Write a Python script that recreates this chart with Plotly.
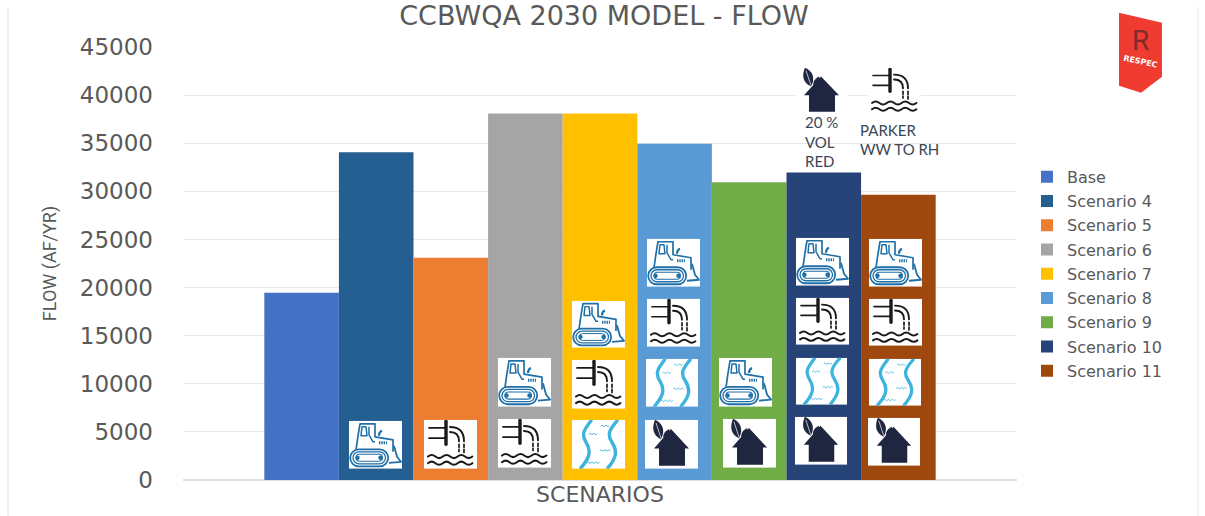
import base64
import plotly.graph_objects as go

# chart data
scenarios = ["Base", "Scenario 4", "Scenario 5", "Scenario 6", "Scenario 7",
             "Scenario 8", "Scenario 9", "Scenario 10", "Scenario 11"]
flows = [19450, 34050, 23100, 38100, 38100, 34950, 30950, 31950, 29650]
colors = ["#4472c4", "#255e91", "#ed7d31", "#a5a5a5", "#ffc000",
          "#5b9bd5", "#70ad47", "#264478", "#9e480e"]
y_ticks = [0, 5000, 10000, 15000, 20000, 25000, 30000, 35000, 40000, 45000]

W, H = 1205, 516
LEFT, RIGHT, TOP, BOTTOM = 183, 1017, 47.3, 480.2
GREY = "#595959"

# icons, all drawn on a 53x48 canvas
DOZER = """
<g fill="none" stroke="#1f6fa8" stroke-linejoin="round">
<path stroke-width="1.7" d="M7 29 L9 15 L11 3 L26 3 L26 16 L44 19 L44 31"/>
<path stroke-width="1.5" d="M13 6 L12 15 L18 15 L17 6 Z M20 6 L20 14 L24 21 L26 21"/>
<path stroke-width="2.2" d="M30 15 q0 -4 3 -5"/>
<path stroke-width="3" stroke-dasharray="1.4 0.9" d="M30 22 h8"/>
<path stroke-width="1.8" d="M45 25 L48 36 L52 41 L40 42"/>
<rect x="1.2" y="28.5" width="38" height="17" rx="8.5" stroke-width="1.8"/>
<rect x="4" y="31" width="32.5" height="12" rx="6" stroke-width="1.3"/>
</g>
<rect x="7" y="33.5" width="26.5" height="7" rx="3.5" fill="#ffffff" stroke="#1f6fa8" stroke-width="1"/>
<circle cx="8.5" cy="37" r="2.2" fill="#1f6fa8"/><circle cx="31.5" cy="37" r="2.2" fill="#1f6fa8"/>
"""
PIPE = """
<g fill="none" stroke="#1a1a1a" stroke-width="1.7" stroke-linecap="round">
<path d="M5 8 H21 M5 18 H21"/>
<path d="M22 1.5 V24" stroke-width="3.4"/>
<path d="M26 7 Q40 7 40 21 M26 12 Q35 12 35 21" stroke-width="1.9"/>
<path d="M35 24 V31 M40 24 V33" stroke-dasharray="3 2"/>
<path stroke-width="2" d="M4 36 q3.7 -3 7.4 0 t7.4 0 t7.4 0 t7.4 0 t7.4 0 t7.4 0"/>
<path stroke-width="2" d="M4 42.5 q3.7 -3 7.4 0 t7.4 0 t7.4 0 t7.4 0 t7.4 0 t7.4 0"/>
</g>
"""
RIVER = """
<g fill="none" stroke="#3cb4de" stroke-linecap="round">
<path stroke-width="3.4" d="M19 1 C12 10 9 14 14 22 C20 31 17 38 9 47"/>
<path stroke-width="3.4" d="M45 1 C37 10 35 15 40 22 C46 31 44 38 36 47"/>
<path stroke-width="0.9" d="M29 6 q1 -1.5 2 0 t2 0 t2 0 t2 0"/>
<path stroke-width="0.9" d="M17 14 q1 -1.5 2 0 t2 0 t2 0 t2 0"/>
<path stroke-width="0.9" d="M28 30 q1 -1.5 2 0 t2 0 t2 0 t2 0 t2 0"/>
<path stroke-width="0.9" d="M15 42 q1 -1.5 2 0 t2 0 t2 0 t2 0 t2 0 t2 0"/>
</g>
"""
HOUSE = """
<g fill="#1e2640">
<path d="M9 28 L26 9 L44 28 L40 28 L40 45 L14 45 L14 28 Z"/>
<path d="M16 19 C7 15 7 7 10 0 C17 3 21 10 16 19 Z"/>
<path d="M19 21 C17 15 19 12 24 9 C26 14 25 18 19 21 Z"/>
</g>
<path d="M11 3 L16 18" stroke="#ffffff" stroke-width="0.7" fill="none"/>
"""


def icon(glyph):
    rect = '<rect width="53" height="48" fill="#ffffff"/>'
    svg = ('<svg xmlns="http://www.w3.org/2000/svg" width="53" height="48" viewBox="0 0 53 48">'
           + rect + glyph + "</svg>")
    return "data:image/svg+xml;base64," + base64.b64encode(svg.encode()).decode()


def px(x):
    return (x - LEFT) / (RIGHT - LEFT)


def py(y):
    return (BOTTOM - y) / (BOTTOM - TOP)


# left, top, right, bottom in picture pixels
icon_boxes = [
    (DOZER, 349, 421, 402, 469),
    (PIPE, 424, 420, 477, 469),
    (PIPE, 498, 419, 551, 468),
    (DOZER, 498, 358, 551, 407),
    (RIVER, 572, 420, 625, 469),
    (PIPE, 572, 360, 625, 409),
    (DOZER, 572, 301, 625, 348),
    (HOUSE, 645, 420, 698, 469),
    (RIVER, 646, 359, 698, 407),
    (PIPE, 647, 299, 700, 347),
    (DOZER, 647, 239, 700, 287),
    (HOUSE, 723, 419, 776, 468),
    (DOZER, 719, 358, 772, 407),
    (HOUSE, 795, 417, 847, 465),
    (RIVER, 796, 358, 847, 405),
    (PIPE, 796, 298, 849, 345),
    (DOZER, 796, 238, 849, 286),
    (HOUSE, 868, 418, 920, 466),
    (RIVER, 869, 359, 921, 406),
    (PIPE, 869, 299, 922, 346),
    (DOZER, 869, 239, 922, 287),
    (HOUSE, 795, 68, 848, 115),
    (PIPE, 868, 68, 921, 115),
]

images = [dict(source=icon(g), xref="paper", yref="paper", x=px(l), y=py(t),
               sizex=px(r) - px(l), sizey=py(t) - py(b), xanchor="left", yanchor="top",
               sizing="stretch", layer="above")
          for g, l, t, r, b in icon_boxes]

fig = go.Figure()
for name, flow, color in zip(scenarios, flows, colors):
    fig.add_trace(go.Bar(x=["SCENARIOS"], y=[flow], name=name, legendgroup=name,
                         marker=dict(color=color, line=dict(width=0))))


def text(x, y, s, size=15, color="#3a4656", family="Lato", anchor="left", angle=0):
    fig.add_annotation(xref="paper", yref="paper", x=px(x), y=py(y), text=s, showarrow=False,
                       xanchor=anchor, yanchor="middle", textangle=angle, align="left",
                       font=dict(size=size, color=color, family=family))


# labels under the two loose icons
text(803, 122, "20 %")
text(803, 142, "VOL")
text(803, 161, "RED")
text(858, 130, "PARKER")
text(858, 149, "WW TO RH")

# outer frame lines of the slide
for x0 in (8, 1198):
    fig.add_shape(type="line", xref="paper", yref="paper", x0=px(x0), x1=px(x0), y0=py(7), y1=py(516),
                  line=dict(color="#e4e4e4", width=1), layer="below")

# logo
logo = [(1119, 13), (1162, 23), (1162, 77), (1141, 93), (1119, 86)]
path = "M" + " L".join(f"{px(x):.5f},{py(y):.5f}" for x, y in logo) + " Z"
fig.add_shape(type="path", xref="paper", yref="paper", path=path,
              fillcolor="#ef3b30", line=dict(width=0))
text(1140, 41, "R", size=28, color="#7d2a2c", family="Roboto", anchor="center")
text(1140, 62, "<b>RESPEC</b>", size=8, color="#ffffff", family="DejaVu Sans", anchor="center", angle=12)

fig.update_layout(
    width=W, height=H, autosize=False,
    margin=dict(l=LEFT, r=W - RIGHT, t=TOP, b=H - BOTTOM, pad=0),
    paper_bgcolor="white", plot_bgcolor="white",
    barmode="group", bargap=0.195, bargroupgap=0,
    images=images,
    title=dict(text="CCBWQA 2030 MODEL - FLOW", x=604 / W, xanchor="center", y=1 - 16 / H, yanchor="middle",
               font=dict(family="DejaVu Sans", size=27, color=GREY)),
    legend=dict(x=(1027 - LEFT) / (RIGHT - LEFT), xanchor="left", y=py(160), yanchor="top",
                tracegroupgap=0.45, font=dict(family="DejaVu Sans", size=16, color=GREY),
                bgcolor="rgba(0,0,0,0)"),
    font=dict(family="DejaVu Sans", color=GREY),
)
fig.update_xaxes(showticklabels=False, showgrid=False, showline=False, ticks="", zeroline=False,
                 title=dict(text="SCENARIOS", standoff=6,
                            font=dict(family="DejaVu Sans", size=22, color=GREY)))
fig.update_yaxes(range=[0, 45000], tickvals=y_ticks, tickformat="d", showgrid=True,
                 gridcolor="#e8e8e8", gridwidth=1,
                 zeroline=True, zerolinecolor="#e0e0e0", showline=False, ticks="",
                 ticklabelstandoff=29,
                 tickfont=dict(family="DejaVu Sans", size=23, color=GREY),
                 title=dict(text="FLOW (AF/YR)", standoff=18,
                            font=dict(family="Roboto", size=18, color=GREY)))

fig.write_html("out.html", config={"displayModeBar": False},
               post_script="document.body.style.margin='0';")
